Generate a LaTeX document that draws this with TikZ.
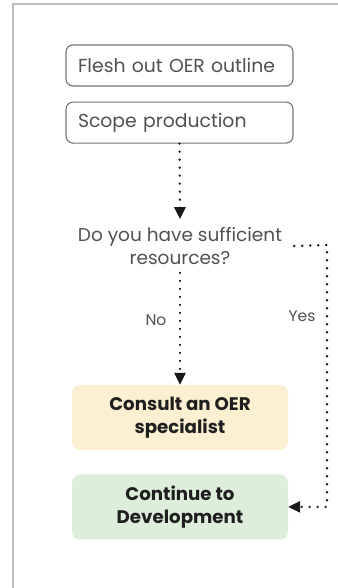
\documentclass[tikz,border=0pt]{standalone}
\usepackage{fontspec}
\setmainfont{Poppins}
\usetikzlibrary{positioning,arrows.meta}

\definecolor{framegray}{HTML}{BDBDBD}
\definecolor{textgray}{HTML}{505050}
\definecolor{consultfill}{HTML}{FCF0D2}
\definecolor{developfill}{HTML}{DDEEDB}

\begin{document}
\begin{tikzpicture}[x=1pt,y=-1pt,
  stepbox/.style={draw=textgray!80,line width=1.1pt,rounded corners=7pt,
    minimum width=227pt,minimum height=41pt,text width=203pt,align=left,
    text=textgray,font=\fontsize{18.8}{21}\selectfont},
  endbox/.style={rounded corners=8pt,minimum width=216pt,minimum height=65pt,
    align=center,text=black!88,font=\bfseries\fontsize{18.2}{23}\selectfont},
  dotline/.style={line width=2.6pt,line cap=round,dash pattern=on 0pt off 8pt,
    black!90},
  tip/.style={-{Triangle[width=11pt,length=12pt]}},
  lbl/.style={text=textgray,font=\fontsize{15.5}{17}\selectfont}]
  \useasboundingbox (0,0) rectangle (337,588);
  \draw[framegray,line width=1.2pt] (13,600) |- (350,4);

  \node[stepbox] (outline) at (179.5,65.5) {Flesh out OER outline};
  \node[stepbox,below=15pt of outline] (scope) {Scope production};
  \node[align=center,text=textgray,inner sep=2pt,
    font=\fontsize{18.5}{23}\selectfont] (question) at (180,246)
    {Do you have sufficient\\resources?};
  \node[endbox,fill=consultfill] (consult) at (180,417.5)
    {Consult an OER\\specialist};
  \node[endbox,fill=developfill,below=24pt of consult] (develop)
    {Continue to\\Development};

  \coordinate (yestop) at (327,245);
  \draw[dotline,tip] (scope.south) -- ([yshift=6pt]question.north);
  \draw[dotline,tip] ([yshift=-6pt]question.south) --
    node[lbl,pos=0.42,left=9pt]{No} (consult.north);
  \draw[dotline,tip] ([xshift=10pt]question.east) -- (yestop) --
    node[lbl,pos=0.27,left=7pt]{Yes} (yestop |- develop.east) -- (develop.east);
\end{tikzpicture}
\end{document}
